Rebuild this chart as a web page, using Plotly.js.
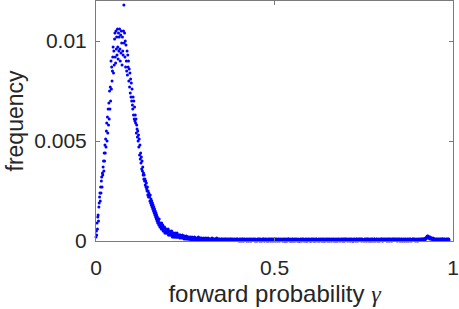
<!DOCTYPE html>
<html>
<head>
<meta charset="utf-8">
<script src="https://cdn.plot.ly/plotly-3.0.1.min.js"></script>
<style>html,body{margin:0;padding:0;background:#fff;}#chart{width:459px;height:309px;}</style>
</head>
<body>
<div id="chart"></div>
<script>
// Histogram of forward probability gamma: 1000 bins of width 0.001 starting at 0
const binWidth = 0.001;
const xTickVals = [0, 0.5, 1];
const xTickText = ['0', '0.5', '1'];
const yTickVals = [0, 0.005, 0.01];
const yTickText = ['0', '0.005', '0.01'];

const frequency = [
0.0002,0.0005,0.0003,0.0009,0.0006,0.0012,0.0013,0.0010,0.0017,0.0019,
0.0022,0.0024,0.0020,0.0027,0.0024,0.0030,0.0032,0.0027,0.0034,0.0033,
0.0037,0.0040,0.0035,0.0044,0.0040,0.0048,0.0044,0.0051,0.0047,0.0055,
0.0059,0.0050,0.0062,0.0054,0.0066,0.0058,0.0069,0.0061,0.0075,0.0066,
0.0077,0.0070,0.0090,0.0076,0.0087,0.0080,0.0085,0.0092,0.0097,0.0084,
0.0095,0.0088,0.0101,0.0104,0.0092,0.0089,0.0105,0.0096,0.0102,0.0093,
0.0106,0.0097,0.0091,0.0104,0.0095,0.0102,0.0106,0.0096,0.0090,0.0103,
0.0094,0.0105,0.0099,0.0088,0.0102,0.0095,0.0093,0.0105,0.0118,0.0099,
0.0104,0.0092,0.0100,0.0087,0.0098,0.0090,0.0085,0.0095,0.0083,0.0093,
0.0087,0.0090,0.0080,0.0086,0.0077,0.0084,0.0074,0.0081,0.0072,0.0079,
0.0070,0.0076,0.0068,0.0066,0.0072,0.0063,0.0070,0.0061,0.0067,0.0060,
0.0063,0.0059,0.0061,0.0054,0.0058,0.0056,0.0052,0.0055,0.0050,0.0053,
0.0047,0.0051,0.0043,0.0048,0.0041,0.0044,0.0039,0.0042,0.0036,0.0040,
0.0035,0.0037,0.0033,0.0034,0.0031,0.0033,0.0030,0.0031,0.0028,0.0030,
0.0027,0.0029,0.0026,0.0025,0.0027,0.0023,0.0025,0.0022,0.0024,0.0023,
0.0022,0.0020,0.0023,0.0019,0.0021,0.0018,0.0020,0.0017,0.0019,0.0016,
0.0018,0.0015,0.0017,0.0014,0.0016,0.0013,0.0015,0.0012,0.0014,0.0011,
0.0013,0.0010,0.0012,0.0009,0.0011,0.0010,0.0008,0.0011,0.0009,0.0007,
0.0009,0.0007,0.0008,0.0006,0.0009,0.0007,0.0006,0.0008,0.0005,0.0007,
0.0006,0.0005,0.0007,0.0004,0.0006,0.0005,0.0004,0.0006,0.0005,0.0004,
0.0005,0.0004,0.0006,0.0003,0.0005,0.0004,0.0003,0.0005,0.0004,0.0003,
0.0004,0.0003,0.0005,0.0003,0.0002,0.0004,0.0003,0.0004,0.0002,0.0003,
0.0003,0.0002,0.0004,0.0003,0.0002,0.0003,0.0002,0.0004,0.0002,0.0003,
2e-4,3e-4,2.5e-4,2e-4,3e-4,1.5e-4,3e-4,2e-4,2.5e-4,2e-4,
2e-4,1.5e-4,3e-4,2e-4,2.5e-4,1.5e-4,2e-4,1e-4,2.5e-4,2e-4,
1.5e-4,2e-4,1e-4,2.5e-4,1.5e-4,2e-4,1e-4,2e-4,1.5e-4,1e-4,
2e-4,1e-4,1.5e-4,1e-4,2e-4,1.5e-4,5e-5,1.5e-4,1e-4,2e-4,
1e-4,1.5e-4,1e-4,5e-5,1.5e-4,1e-4,2e-4,1e-4,1.5e-4,5e-5,
1.5e-4,1e-4,5e-5,1e-4,1.5e-4,1e-4,5e-5,2e-4,1e-4,1e-4,
1e-4,5e-5,1.5e-4,1e-4,5e-5,1e-4,1.5e-4,1e-4,5e-5,1e-4,
1e-4,5e-5,1.5e-4,1e-4,5e-5,1e-4,5e-5,1e-4,1.5e-4,5e-5,
1e-4,5e-5,1e-4,5e-5,1.5e-4,5e-5,1e-4,5e-5,1e-4,5e-5,
5e-5,1e-4,5e-5,1e-4,5e-5,1.5e-4,5e-5,5e-5,1e-4,1e-4,
5e-5,1e-4,5e-5,5e-5,1e-4,5e-5,1e-4,5e-5,1.5e-4,5e-5,
1e-4,5e-5,5e-5,1e-4,5e-5,1e-4,5e-5,1e-4,5e-5,5e-5,
5e-5,1e-4,5e-5,1e-4,5e-5,5e-5,1e-4,5e-5,5e-5,1e-4,
5e-5,5e-5,1e-4,5e-5,1e-4,5e-5,5e-5,1e-4,5e-5,5e-5,
1e-4,5e-5,5e-5,1e-4,5e-5,5e-5,1e-4,5e-5,1e-4,5e-5,
5e-5,1e-4,5e-5,5e-5,1e-4,5e-5,5e-5,5e-5,1e-4,5e-5,
5e-5,5e-5,1e-4,5e-5,5e-5,1e-4,5e-5,1e-4,5e-5,5e-5,
5e-5,0,1e-4,5e-5,5e-5,1e-4,5e-5,0,5e-5,1e-4,
1e-4,5e-5,5e-5,0,1e-4,5e-5,5e-5,1e-4,5e-5,5e-5,
5e-5,1e-4,0,5e-5,5e-5,1e-4,5e-5,5e-5,0,1e-4,
5e-5,5e-5,1e-4,5e-5,0,5e-5,1e-4,5e-5,5e-5,5e-5,
1e-4,5e-5,5e-5,1e-4,5e-5,5e-5,0,1e-4,5e-5,5e-5,
5e-5,0,5e-5,1e-4,5e-5,1e-4,5e-5,5e-5,1e-4,0,
5e-5,1e-4,5e-5,5e-5,0,5e-5,1e-4,5e-5,5e-5,1e-4,
1e-4,5e-5,0,5e-5,1e-4,5e-5,5e-5,1e-4,5e-5,0,
5e-5,5e-5,1e-4,0,5e-5,1e-4,5e-5,5e-5,1e-4,5e-5,
0,1e-4,5e-5,5e-5,1e-4,5e-5,0,5e-5,1e-4,5e-5,
5e-5,5e-5,0,1e-4,5e-5,5e-5,1e-4,5e-5,0,5e-5,
1e-4,5e-5,5e-5,1e-4,0,5e-5,5e-5,1e-4,5e-5,5e-5,
5e-5,1e-4,5e-5,0,5e-5,1e-4,5e-5,5e-5,0,1e-4,
5e-5,0,1e-4,5e-5,5e-5,0,1e-4,5e-5,5e-5,1e-4,
1e-4,5e-5,5e-5,0,1e-4,5e-5,5e-5,0,5e-5,1e-4,
5e-5,1e-4,0,5e-5,5e-5,1e-4,5e-5,0,1e-4,5e-5,
5e-5,5e-5,1e-4,5e-5,0,5e-5,1e-4,5e-5,5e-5,0,
0,5e-5,1e-4,5e-5,5e-5,1e-4,0,5e-5,5e-5,1e-4,
5e-5,1e-4,5e-5,0,5e-5,5e-5,1e-4,5e-5,0,5e-5,
1e-4,5e-5,0,5e-5,1e-4,5e-5,5e-5,1e-4,5e-5,0,
5e-5,5e-5,1e-4,0,5e-5,1e-4,5e-5,5e-5,1e-4,5e-5,
0,1e-4,5e-5,5e-5,0,5e-5,1e-4,5e-5,1e-4,5e-5,
5e-5,0,5e-5,1e-4,5e-5,5e-5,0,1e-4,5e-5,5e-5,
1e-4,5e-5,5e-5,0,1e-4,5e-5,5e-5,1e-4,0,5e-5,
5e-5,1e-4,0,5e-5,5e-5,1e-4,5e-5,5e-5,1e-4,0,
5e-5,5e-5,1e-4,5e-5,0,1e-4,5e-5,5e-5,5e-5,1e-4,
0,5e-5,5e-5,1e-4,5e-5,5e-5,1e-4,0,5e-5,5e-5,
1e-4,5e-5,0,5e-5,1e-4,5e-5,5e-5,0,1e-4,5e-5,
5e-5,1e-4,5e-5,5e-5,0,5e-5,1e-4,5e-5,5e-5,1e-4,
5e-5,0,1e-4,5e-5,5e-5,1e-4,0,5e-5,1e-4,5e-5,
1e-4,5e-5,5e-5,1e-4,5e-5,0,5e-5,1e-4,5e-5,5e-5,
5e-5,1e-4,0,5e-5,1e-4,5e-5,5e-5,1e-4,5e-5,0,
0,5e-5,1e-4,5e-5,5e-5,1e-4,5e-5,0,5e-5,1e-4,
5e-5,1e-4,5e-5,0,5e-5,1e-4,5e-5,5e-5,1e-4,5e-5,
1e-4,5e-5,5e-5,1e-4,0,5e-5,1e-4,5e-5,5e-5,5e-5,
5e-5,0,5e-5,1e-4,5e-5,5e-5,1e-4,5e-5,0,1e-4,
5e-5,1e-4,5e-5,5e-5,1e-4,0,5e-5,5e-5,1e-4,5e-5,
0,5e-5,1e-4,5e-5,1e-4,5e-5,0,5e-5,5e-5,1e-4,
1e-4,5e-5,0,5e-5,5e-5,1e-4,5e-5,1e-4,5e-5,0,
5e-5,5e-5,1e-4,5e-5,0,5e-5,1e-4,5e-5,5e-5,1e-4,
5e-5,1e-4,5e-5,0,1e-4,5e-5,5e-5,1e-4,5e-5,5e-5,
1e-4,5e-5,5e-5,1e-4,5e-5,0,5e-5,1e-4,5e-5,1e-4,
5e-5,0,1e-4,5e-5,5e-5,1e-4,5e-5,5e-5,0,1e-4,
5e-5,1e-4,5e-5,5e-5,1e-4,5e-5,1e-4,5e-5,5e-5,1e-4,
5e-5,5e-5,1e-4,5e-5,0,1e-4,5e-5,5e-5,1e-4,5e-5,
1e-4,5e-5,0,5e-5,1e-4,5e-5,5e-5,1e-4,0,5e-5,
5e-5,1e-4,5e-5,5e-5,0,1e-4,5e-5,5e-5,1e-4,5e-5,
0,5e-5,1e-4,5e-5,5e-5,1e-4,0,5e-5,5e-5,1e-4,
5e-5,1e-4,5e-5,0,5e-5,5e-5,1e-4,5e-5,1e-4,5e-5,
1e-4,5e-5,5e-5,1e-4,5e-5,0,5e-5,1e-4,5e-5,5e-5,
5e-5,0,1e-4,5e-5,5e-5,1e-4,5e-5,5e-5,1e-4,5e-5,
5e-5,1e-4,5e-5,1e-4,5e-5,1e-4,5e-5,1e-4,1e-4,5e-5,
1e-4,5e-5,1e-4,1.5e-4,1e-4,1.5e-4,2e-4,1.5e-4,2.5e-4,2e-4,
2.5e-4,2e-4,1.5e-4,2e-4,1.5e-4,1e-4,2e-4,1.5e-4,1.5e-4,1e-4,
1.5e-4,1e-4,1e-4,5e-5,1.5e-4,1e-4,5e-5,1e-4,1e-4,5e-5,
1e-4,5e-5,5e-5,1e-4,5e-5,1e-4,5e-5,5e-5,1e-4,5e-5,
5e-5,1e-4,5e-5,5e-5,1e-4,5e-5,1e-4,5e-5,5e-5,1e-4,
1e-4,5e-5,1e-4,5e-5,5e-5,1e-4,5e-5,1e-4,5e-5,5e-5,
5e-5,1e-4,5e-5,1e-4,5e-5,5e-5,1e-4,5e-5,1e-4,5e-5
];

const gammaBins = frequency.map((_, i) => i * binWidth);

const textColor = '#262626';
const lineColor = '#7a7a7a';
const fontFam = '"Liberation Sans", Arial, Helvetica, sans-serif';

const trace = {
  x: gammaBins,
  y: frequency,
  type: 'scatter',
  mode: 'markers',
  marker: {color: '#0000ff', size: 3, line: {width: 0}},
  cliponaxis: false,
  hoverinfo: 'none'
};

const layout = {
  width: 459,
  height: 309,
  margin: {l: 96, r: 6, t: 1, b: 68, pad: 0},
  paper_bgcolor: '#ffffff',
  plot_bgcolor: '#ffffff',
  showlegend: false,
  font: {family: fontFam, color: textColor},
  xaxis: {
    range: [0, 1],
    tickvals: xTickVals,
    ticktext: xTickText,
    ticks: 'inside',
    ticklen: 4,
    tickcolor: lineColor,
    showline: true,
    linecolor: lineColor,
    linewidth: 1,
    mirror: 'ticks',
    showgrid: false,
    zeroline: false,
    automargin: false,
    ticklabelstandoff: 8,
    tickfont: {size: 21, color: textColor, family: fontFam},
    title: {text: 'forward probability <span style="font-family:\'Liberation Serif\',\'DejaVu Serif\',serif;font-style:italic">γ</span>', font: {size: 24, color: textColor, family: fontFam}, standoff: 6}
  },
  yaxis: {
    range: [0, 0.012],
    tickvals: yTickVals,
    ticktext: yTickText,
    ticks: 'inside',
    ticklen: 4,
    tickcolor: lineColor,
    showline: true,
    linecolor: lineColor,
    linewidth: 1,
    mirror: 'ticks',
    showgrid: false,
    zeroline: false,
    automargin: false,
    ticklabelstandoff: 4,
    tickfont: {size: 21, color: textColor, family: fontFam},
    title: {text: 'frequency', font: {size: 23, color: textColor, family: fontFam}, standoff: 4}
  }
};

Plotly.newPlot('chart', [trace], layout, {staticPlot: true, displayModeBar: false});
</script>
</body>
</html>
